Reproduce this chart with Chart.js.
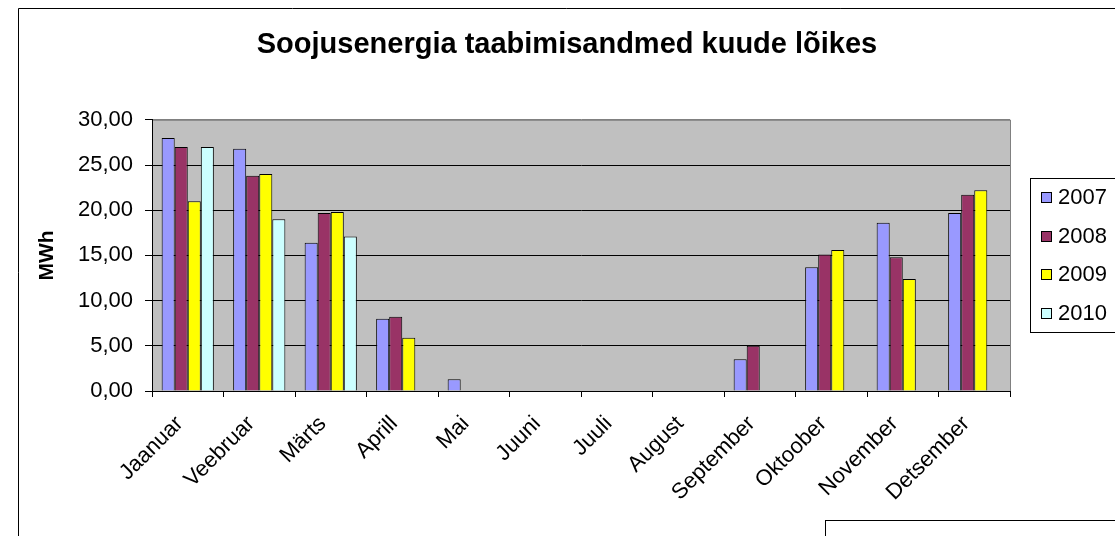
<!DOCTYPE html>
<html>
<head>
<meta charset="utf-8">
<script src="https://cdn.jsdelivr.net/npm/chart.js@4/dist/chart.umd.min.js"></script>
<style>
  html, body { margin: 0; padding: 0; background: #fff; }
  #wrap { width: 1115px; height: 536px; position: relative; }
</style>
</head>
<body>
<div id="wrap"><canvas id="c"></canvas></div>
<script>
const months = ['Jaanuar', 'Veebruar', 'Märts', 'Aprill', 'Mai', 'Juuni', 'Juuli', 'August', 'September', 'Oktoober', 'November', 'Detsember'];
const years = ['2007', '2008', '2009', '2010'];
const v2007 = [28.0, 26.8, 16.4, 8.0, 1.3, null, null, null, 3.5, 13.7, 18.6, 19.7];
const v2008 = [27.0, 23.8, 19.7, 8.2, null, null, null, null, 5.0, 15.1, 14.8, 21.7];
const v2009 = [21.0, 24.0, 19.8, 5.9, null, null, null, null, null, 15.6, 12.4, 22.2];
const v2010 = [27.0, 19.0, 17.1, null, null, null, null, null, null, null, null, null];
const yTicks = [0, 5, 10, 15, 20, 25, 30];
const colors = ['#9999ff', '#993366', '#ffff00', '#ccffff'];

const font = "'Liberation Sans', Arial, sans-serif";

// grey plot background, outer frame and the legend box
const decor = {
    id: 'decor',
    beforeDraw(chart) {
        const { ctx, chartArea: a } = chart;
        ctx.save();
        ctx.fillStyle = '#c0c0c0';
        ctx.fillRect(a.left, a.top, a.right - a.left, a.bottom - a.top);
        ctx.strokeStyle = '#808080';
        ctx.lineWidth = 1;
        ctx.strokeRect(a.left + 0.5, a.top + 0.5, a.right - a.left, a.bottom - a.top);
        ctx.strokeStyle = '#000';
        ctx.beginPath();
        ctx.moveTo(18.5, 536); ctx.lineTo(18.5, 8.5); ctx.lineTo(1115, 8.5);
        ctx.stroke();
        ctx.strokeRect(825.5, 520.5, 400, 40);
        ctx.restore();
    },
    afterDraw(chart) {
        const { ctx, chartArea: a } = chart;
        const x0 = a.right + 20, top = 178, bottom = 332;
        ctx.save();
        ctx.strokeStyle = '#000';
        ctx.lineWidth = 1;
        ctx.strokeRect(x0 + 0.5, top + 0.5, 200, bottom - top);
        ctx.font = '22px ' + font;
        ctx.textBaseline = 'middle';
        const step = (bottom - top) / chart.data.datasets.length;
        chart.data.datasets.forEach((ds, i) => {
            const cy = top + step * (i + 0.5);
            ctx.fillStyle = ds.backgroundColor;
            ctx.fillRect(x0 + 11, Math.round(cy - 5), 10, 10);
            ctx.strokeRect(x0 + 11.5, Math.round(cy - 5) + 0.5, 10, 10);
            ctx.fillStyle = '#000';
            ctx.fillText(ds.label, x0 + 28, cy + 1);
        });
        ctx.restore();
    }
};

const series = [v2007, v2008, v2009, v2010];

new Chart(document.getElementById('c'), {
    type: 'bar',
    data: {
        labels: months,
        datasets: years.map((y, i) => ({
            label: y,
            data: series[i],
            backgroundColor: colors[i],
            borderColor: '#000',
            borderWidth: 1,
            categoryPercentage: 0.73,
            barPercentage: 1.0
        }))
    },
    options: {
        responsive: true,
        maintainAspectRatio: false,
        animation: false,
        layout: { padding: { left: 19, right: 0, top: 10, bottom: 0 } },
        plugins: {
            legend: { display: false },
            tooltip: { enabled: false },
            title: {
                display: true,
                text: 'Soojusenergia taabimisandmed kuude lõikes',
                color: '#000',
                font: { family: font, size: 29, weight: 'bold' },
                padding: { top: 18, bottom: 57 }
            }
        },
        scales: {
            x: {
                afterFit(scale) { scale.height = 145; },
                grid: { drawOnChartArea: false, drawTicks: true, tickLength: 6, color: '#000', offset: true },
                border: { color: '#000' },
                ticks: {
                    color: '#000',
                    font: { family: font, size: 22 },
                    minRotation: 45,
                    maxRotation: 45,
                    padding: 14,
                    labelOffset: -8,
                    autoSkip: false
                }
            },
            y: {
                min: 0,
                max: 30,
                afterFit(scale) { scale.width = 133; },
                afterBuildTicks(axis) { axis.ticks = yTicks.map(v => ({ value: v })); },
                grid: {
                    color: ctx => (ctx.tick && ctx.tick.value === 30 ? '#808080' : '#000'),
                    tickColor: '#000',
                    tickLength: 7,
                    lineWidth: 1
                },
                border: { color: '#000' },
                ticks: {
                    color: '#000',
                    font: { family: font, size: 22 },
                    padding: 12,
                    callback: v => v.toFixed(2).replace('.', ',')
                },
                title: {
                    display: true,
                    text: 'MWh',
                    color: '#000',
                    font: { family: font, size: 21, weight: 'bold' },
                    padding: { top: 16, bottom: 0 }
                }
            },
            // empty right-hand box that keeps room for the legend
            pad: {
                position: 'right',
                afterFit(scale) { scale.width = 105; },
                grid: { display: false },
                border: { display: false },
                ticks: { display: false }
            }
        }
    },
    plugins: [decor]
});
</script>
</body>
</html>
